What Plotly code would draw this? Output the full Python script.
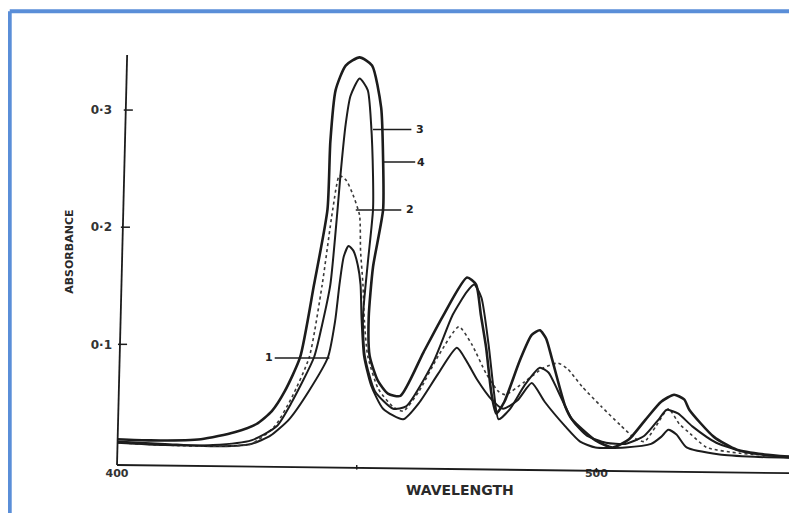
import plotly.graph_objects as go

# ---------------- data ----------------
# Curve 1 (solid, smallest main peak)
wl_1 = [400, 410, 420, 428, 432, 435.9, 440, 444.0, 445.5, 446.4, 447.3, 448.3, 449.3, 450.2,
        450.8, 451.0, 451.5, 453.0, 455.5, 459.7, 463.0, 467.0, 470.9, 473.0, 475.1, 478.1,
        480.5, 483.5, 486.5, 489.2, 493.5, 496.6, 499.8, 506.0, 511.4, 513.5, 515.0, 516.7,
        518.8, 525.7, 533, 541]
ab_1 = [0.017, 0.015, 0.013, 0.015, 0.022, 0.036, 0.060, 0.089, 0.120, 0.151, 0.175, 0.184, 0.180, 0.168,
        0.151, 0.123, 0.090, 0.065, 0.045, 0.036, 0.050, 0.075, 0.097, 0.085, 0.070, 0.053,
        0.045, 0.052, 0.067, 0.051, 0.030, 0.017, 0.012, 0.012, 0.015, 0.021, 0.027, 0.023,
        0.012, 0.006, 0.004, 0.003]

# Curve 2 (dotted)
wl_2 = [400, 410, 420, 428, 432.9, 436.5, 440.1, 442.8, 445.0, 446.4, 447.8, 449.2, 450.6, 450.8,
        451.3, 451.6, 452.3, 454.5, 457.5, 459.7, 463.0, 467.0, 471.3, 474.0, 477.0, 479.5,
        481.0, 485.0, 489.0, 492.0, 494.0, 497.0, 501.0, 505.0, 508.0, 510.0, 512.4, 515.0, 517.3,
        519.5, 523.0, 530.0, 541.0]
ab_2 = [0.016, 0.014, 0.013, 0.015, 0.030, 0.055, 0.089, 0.151, 0.215, 0.244, 0.240, 0.228, 0.210, 0.180,
        0.151, 0.120, 0.090, 0.062, 0.047, 0.043, 0.060, 0.090, 0.115, 0.100, 0.075, 0.060,
        0.057, 0.068, 0.080, 0.084, 0.079, 0.064, 0.047, 0.031, 0.020, 0.017, 0.030, 0.045, 0.032,
        0.024, 0.012, 0.007, 0.004]

# Curve 3 (solid, inner high peak)
wl_3 = [400, 410, 420, 428, 433.3, 436.5, 441.1, 442.8, 444.5, 446.0, 446.6, 447.7, 448.7, 450.6,
        452.3, 453.0, 453.4, 453.4, 452.3, 451.3, 451.7, 453.8, 457.6, 460.3, 466.0, 470.0,
        473.0, 474.5, 476.0, 477.5, 478.6, 479.6, 482.0, 485.0, 488.2, 490.0, 492.0, 495.0,
        498.0, 502.0, 506.0, 510.0, 513.0, 514.6, 517.0, 520.0, 525.0, 531, 541]
ab_3 = [0.016, 0.014, 0.014, 0.018, 0.030, 0.051, 0.089, 0.117, 0.151, 0.215, 0.244, 0.288, 0.312, 0.327,
        0.317, 0.288, 0.244, 0.215, 0.169, 0.123, 0.090, 0.060, 0.045, 0.047, 0.085, 0.125,
        0.145, 0.151, 0.140, 0.100, 0.060, 0.036, 0.045, 0.065, 0.080, 0.076, 0.060, 0.035,
        0.022, 0.016, 0.015, 0.022, 0.036, 0.044, 0.041, 0.030, 0.016, 0.008, 0.003]

# Curve 4 (solid, outer, largest)
wl_4 = [400, 407, 417.5, 424.5, 429.1, 432.3, 435.0, 438.2, 441.1, 443.9, 444.5, 445.6, 447.7, 450.6,
        453.2, 455.1, 455.5, 455.5, 453.4, 452.5, 452.7, 454.4, 456.5, 459.1, 463.9, 468.1,
        473.0, 474.9, 475.9, 477.0, 478.1, 479.1, 480.8, 484.0, 486.5, 488.2, 489.5, 490.7,
        493.5, 494.9, 499.8, 503.4, 506.8, 510.3, 513.5, 516.2, 518.3, 519.4, 524.5, 529.3,
        535, 541]
ab_4 = [0.019, 0.018, 0.019, 0.025, 0.032, 0.043, 0.060, 0.089, 0.151, 0.215, 0.273, 0.317, 0.338, 0.345,
        0.338, 0.302, 0.258, 0.215, 0.166, 0.123, 0.090, 0.069, 0.058, 0.056, 0.093, 0.125,
        0.157, 0.151, 0.125, 0.097, 0.058, 0.041, 0.051, 0.086, 0.108, 0.112, 0.105, 0.088,
        0.047, 0.036, 0.018, 0.012, 0.019, 0.036, 0.051, 0.057, 0.053, 0.044, 0.021, 0.010,
        0.006, 0.004]

x_tick_values = [400, 450, 500]
x_tick_text = ["400", "", "500"]
y_tick_values = [0.1, 0.2, 0.3]
y_tick_text = ["0·1", "0·2", "0·3"]
x_title = "WAVELENGTH"
y_title = "ABSORBANCE"

curve_labels = ["1", "2", "3", "4"]
label_line_start = [432.9, 449.8, 453.4, 455.5]
label_line_end = [444.3, 459.3, 461.4, 462.2]
label_level = [0.0884, 0.2147, 0.2834, 0.2556]
label_text_wl = [431.6, 461.2, 463.3, 463.5]

X_RANGE = [400, 541]
Y_RANGE = [-0.003, 0.347]

# ---------------- figure ----------------
fig = go.Figure()
ink = "#1c1c1c"
series = [
    (wl_1, ab_1, dict(color=ink, width=2.0)),
    (wl_2, ab_2, dict(color="#3a3a3a", width=1.6, dash="dot")),
    (wl_3, ab_3, dict(color=ink, width=2.0)),
    (wl_4, ab_4, dict(color=ink, width=2.6)),
]
for (wl, ab, ln), name in zip(series, curve_labels):
    ln = dict(ln, shape="spline", smoothing=0.6)
    fig.add_trace(go.Scatter(x=wl, y=ab, mode="lines", line=ln, name=name,
                             showlegend=False, hoverinfo="skip"))

shapes = []
# slanted axes as in the scan
shapes.append(dict(type="line", xref="paper", yref="paper", x0=0, y0=0, x1=0.015, y1=1.0,
                   line=dict(color=ink, width=1.8)))
shapes.append(dict(type="line", xref="paper", yref="paper", x0=0, y0=0, x1=1.0, y1=-0.02,
                   line=dict(color=ink, width=1.8)))
shapes.append(dict(type="line", xref="paper", yref="paper", x0=1.0, y0=0.006, x1=1.0, y1=-0.027,
                   line=dict(color=ink, width=1.8)))
# y tick marks
for v in y_tick_values:
    frac = (v - Y_RANGE[0]) / (Y_RANGE[1] - Y_RANGE[0])
    ax = 0.015 * frac
    shapes.append(dict(type="line", xref="paper", yref="y", x0=ax - 2 / 668, x1=ax + 7 / 668,
                       y0=v, y1=v, line=dict(color=ink, width=1.5)))
# x tick marks
for v in x_tick_values[1:]:
    frac = (v - X_RANGE[0]) / (X_RANGE[1] - X_RANGE[0])
    ay = -0.02 * frac
    shapes.append(dict(type="line", xref="x", yref="paper", x0=v, x1=v, y0=ay + 0.007, y1=ay - 0.004,
                       line=dict(color=ink, width=1.5)))
# label leader lines
for s, e, lv in zip(label_line_start, label_line_end, label_level):
    shapes.append(dict(type="line", xref="x", yref="y", x0=s, x1=e, y0=lv, y1=lv,
                       line=dict(color=ink, width=1.4)))
# blue frame (top and left edges)
blue = "#5a8ed8"
shapes.append(dict(type="line", xref="paper", yref="paper", x0=-0.1587, x1=1.03, y0=1.107, y1=1.107,
                   line=dict(color=blue, width=4)))
shapes.append(dict(type="line", xref="paper", yref="paper", x0=-0.1587, x1=-0.1587, y0=-0.15, y1=1.107,
                   line=dict(color=blue, width=4)))

annotations = []
for t, x, lv in zip(curve_labels, label_text_wl, label_level):
    annotations.append(dict(x=x, y=lv, xref="x", yref="y", text=t, showarrow=False,
                            font=dict(family="DejaVu Sans", size=11, color="#222", weight="bold")))
annotations.append(dict(x=0.507, y=-0.085, xref="paper", yref="paper", text=x_title, showarrow=False,
                        font=dict(family="DejaVu Sans", size=14, color="#2a2a2a", weight="bold")))
annotations.append(dict(x=-0.082, y=0.52, xref="paper", yref="paper", text=y_title, showarrow=False,
                        textangle=-90,
                        font=dict(family="DejaVu Sans", size=11, color="#2a2a2a", weight="bold")))

# the page body has an 8px margin, so the figure is sized to land the plot area
# at the same window position as in the reference
fig.update_layout(
    width=789, height=505,
    margin=dict(l=109, r=4, t=47, b=48),
    paper_bgcolor="white", plot_bgcolor="white",
    shapes=shapes, annotations=annotations,
    xaxis=dict(range=X_RANGE, showgrid=False, zeroline=False, showline=False, ticks="",
               tickvals=x_tick_values, ticktext=x_tick_text,
               tickfont=dict(family="DejaVu Sans", size=11, color="#333", weight="bold")),
    yaxis=dict(range=Y_RANGE, showgrid=False, zeroline=False, showline=False, ticks="",
               tickvals=y_tick_values, ticktext=y_tick_text, ticklabelstandoff=4,
               tickfont=dict(family="DejaVu Sans", size=12, color="#333", weight="bold")),
)

fig.write_html("out.html")
